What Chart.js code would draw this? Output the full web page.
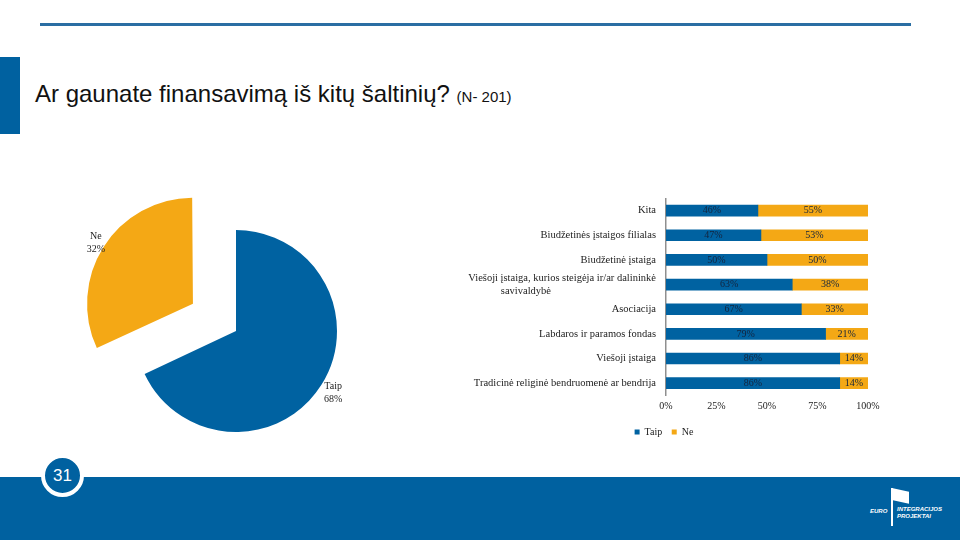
<!DOCTYPE html>
<html lang="lt">
<head>
<meta charset="UTF-8">
<title>Ar gaunate finansavimą iš kitų šaltinių?</title>
<script src="https://cdn.jsdelivr.net/npm/chart.js"></script>
<style>
    body { margin: 0; background: #ffffff; }
    .slide { position: relative; width: 960px; height: 540px; overflow: hidden; font-family: "Liberation Sans", Arial, sans-serif; }
    .topline { position: absolute; left: 40px; top: 23px; width: 871px; height: 3px; background: #2a6ea3; }
    .sidebar { position: absolute; left: 0; top: 57px; width: 20px; height: 77px; background: #0061a0; }
    .title { position: absolute; left: 35px; top: 80px; font-size: 24px; color: #111; white-space: nowrap; }
    .title small { font-size: 15px; }
    .footer { position: absolute; left: 0; top: 477px; width: 960px; height: 63px; background: #0061a0; }
    .pagenum { position: absolute; left: 41px; top: 454px; width: 35px; height: 35px; border: 4px solid #fff; border-radius: 50%;
               background: #0061a0; color: #fff; font-size: 17px; line-height: 35px; text-align: center; }
    .logo { position: absolute; left: 868px; top: 486px; width: 80px; height: 40px; color: #fff; font-weight: bold; font-style: italic; font-size: 6px; }
    .logo .pole { position: absolute; left: 23px; top: 2px; width: 2px; height: 38px; background: #fff; }
    .logo .flag { position: absolute; left: 25px; top: 4px; width: 16px; height: 12px; background: #fff; transform: skewY(12deg); }
    .logo .euro { position: absolute; left: 2px; top: 22px; }
    .logo .ip { position: absolute; left: 29px; top: 20px; line-height: 7px; }
    #pieChart { position: absolute; left: 70px; top: 190px; }
    #barChart { position: absolute; left: 460px; top: 182px; }
</style>
</head>
<body>
<div class="slide">
    <div class="topline"></div>
    <div class="sidebar"></div>
    <div class="title">Ar gaunate finansavimą iš kitų šaltinių? <small>(N- 201)</small></div>

    <canvas id="pieChart" width="332" height="282"></canvas>
    <canvas id="barChart" width="434" height="265"></canvas>

    <div class="footer"></div>
    <div class="pagenum">31</div>
    <div class="logo">
        <div class="pole"></div>
        <div class="flag"></div>
        <div class="euro">EURO</div>
        <div class="ip">INTEGRACIJOS<br>PROJEKTAI</div>
    </div>
</div>

<script>
    // Pie: overall answer
    const pieLabels = ['Taip', 'Ne'];
    const pieValues = [68, 32];

    // Stacked bars by organisation type
    const categories = [
        'Kita',
        'Biudžetinės įstaigos filialas',
        'Biudžetinė įstaiga',
        ['Viešoji įstaiga, kurios steigėja ir/ar dalininkė', 'savivaldybė'],
        'Asociacija',
        'Labdaros ir paramos fondas',
        'Viešoji įstaiga',
        'Tradicinė religinė bendruomenė ar bendrija'
    ];
    const taipValues = [45.5, 47, 50, 62.5, 67, 79, 86, 86];
    const neValues = [54.5, 53, 50, 37.5, 33, 21, 14, 14];
    const xTicks = [0, 25, 50, 75, 100];

    const BLUE = '#0062a1';
    const ORANGE = '#f4a815';
    const SERIF = '"Liberation Serif", "Times New Roman", serif';

    Chart.defaults.font.family = SERIF;
    Chart.defaults.font.size = 10;
    Chart.defaults.color = '#222';

    // labels for the pie slices, placed just outside each slice
    const pieLabelPlugin = {
        id: 'pieLabels',
        afterDatasetsDraw(chart) {
            const ctx = chart.ctx;
            const meta = chart.getDatasetMeta(0);
            ctx.save();
            ctx.font = '10px ' + SERIF;
            ctx.fillStyle = '#222';
            ctx.textAlign = 'center';
            ctx.textBaseline = 'middle';
            meta.data.forEach(function (arc, i) {
                const p = arc.getProps(['x', 'y', 'startAngle', 'endAngle', 'outerRadius']);
                const mid = (p.startAngle + p.endAngle) / 2;
                const shift = (arc.options.offset || 0) / 4;
                const r = shift + p.outerRadius + 14;
                const lx = p.x + Math.cos(mid) * r;
                const ly = p.y + Math.sin(mid) * r;
                ctx.fillText(pieLabels[i], lx, ly - 6);
                ctx.fillText(pieValues[i] + '%', lx, ly + 7);
            });
            ctx.restore();
        }
    };

    new Chart(document.getElementById('pieChart'), {
        type: 'pie',
        data: {
            labels: pieLabels,
            datasets: [{
                data: pieValues,
                backgroundColor: [BLUE, ORANGE],
                borderWidth: 0,
                offset: [0, 204]
            }]
        },
        options: {
            responsive: false,
            animation: false,
            radius: 101,
            plugins: { legend: { display: false }, tooltip: { enabled: false } }
        },
        plugins: [pieLabelPlugin]
    });

    // percentage text in the middle of each bar segment
    const barLabelPlugin = {
        id: 'barLabels',
        afterDatasetsDraw(chart) {
            const ctx = chart.ctx;
            ctx.save();
            ctx.font = '10px ' + SERIF;
            ctx.fillStyle = '#13243d';
            ctx.textAlign = 'center';
            ctx.textBaseline = 'middle';
            chart.data.datasets.forEach(function (ds, di) {
                chart.getDatasetMeta(di).data.forEach(function (bar, i) {
                    const p = bar.getProps(['x', 'y', 'base']);
                    ctx.fillText(Math.round(ds.data[i]) + '%', (p.x + p.base) / 2, p.y);
                });
            });
            ctx.restore();
        }
    };

    new Chart(document.getElementById('barChart'), {
        type: 'bar',
        data: {
            labels: categories,
            datasets: [
                { label: 'Taip', data: taipValues, backgroundColor: BLUE, barThickness: 11 },
                { label: 'Ne', data: neValues, backgroundColor: ORANGE, barThickness: 11 }
            ]
        },
        options: {
            responsive: false,
            animation: false,
            indexAxis: 'y',
            layout: { padding: { top: 7, right: 26, bottom: 0, left: 0 } },
            scales: {
                x: {
                    stacked: true,
                    min: 0,
                    max: 100,
                    afterBuildTicks: function (scale) {
                        scale.ticks = xTicks.map(function (v) { return { value: v }; });
                    },
                    grid: { display: false, drawTicks: false },
                    border: { display: false },
                    ticks: { padding: 5, callback: function (v) { return v + '%'; } }
                },
                y: {
                    stacked: true,
                    afterFit: function (scale) { scale.width = 206; },
                    grid: { display: false, drawTicks: false },
                    border: { display: true, color: '#8f8f8f', width: 1.5 },
                    ticks: {
                        padding: 10,
                        autoSkip: false,
                        font: { size: 10.5 },
                        callback: function (v, i) {
                            const lab = categories[i];
                            if (Array.isArray(lab)) {
                                // second line sits roughly centred under the first
                                return [lab[0], lab[1] + '\u2003'.repeat(10)];
                            }
                            return lab;
                        }
                    }
                }
            },
            plugins: {
                legend: {
                    position: 'bottom',
                    labels: { boxWidth: 5, boxHeight: 5, padding: 9.5 }
                },
                tooltip: { enabled: false }
            }
        },
        plugins: [barLabelPlugin]
    });
</script>
</body>
</html>
